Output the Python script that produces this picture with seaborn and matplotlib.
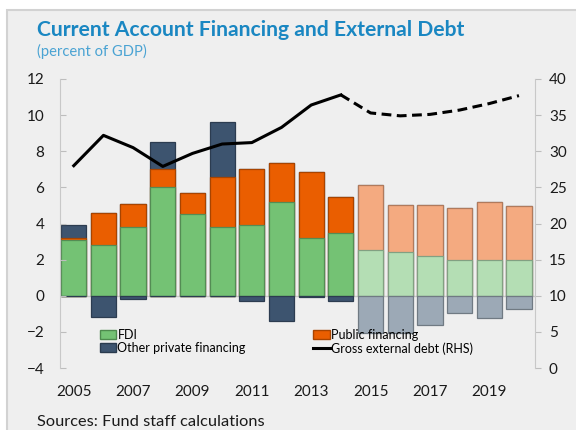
import numpy as np
import pandas as pd
import matplotlib
matplotlib.use("Agg")
import matplotlib.pyplot as plt
import seaborn as sns
from matplotlib.patches import Patch, Rectangle
from matplotlib.lines import Line2D
import matplotlib.colors as mcolors

plt.rcParams['font.family'] = ['Lato', 'DejaVu Sans']

# Data (percent of GDP; debt on right axis)
years = [2005, 2006, 2007, 2008, 2009, 2010, 2011, 2012,
         2013, 2014, 2015, 2016, 2017, 2018, 2019, 2020]
period = ['hist'] * 10 + ['proj'] * 6
fdi = [3.1, 2.8, 3.8, 6.0, 4.5, 3.8, 3.9, 5.2, 3.2, 3.45, 2.55, 2.4, 2.2, 2.0, 2.0, 2.0]
public = [0.1, 1.8, 1.3, 1.0, 1.2, 2.8, 3.1, 2.15, 3.65, 2.0, 3.6, 2.65, 2.85, 2.85, 3.2, 2.95]
other = [0.7, -1.15, -0.2, 1.5, 0.0, 3.0, -0.28, -1.4, -0.05, -0.3,
         -2.05, -2.05, -1.6, -0.95, -1.25, -0.75]
debt = [28.0, 32.2, 30.5, 27.9, 29.7, 31.0, 31.2, 33.3,
        36.4, 37.8, 35.3, 34.9, 35.1, 35.7, 36.6, 37.7]
tick_years = ['2005', '2007', '2009', '2011', '2013', '2015', '2017', '2019']

df = pd.DataFrame({'year': [str(y) for y in years], 'period': period,
                   'fdi': fdi, 'public': public, 'other': other, 'debt': debt})
df['other_pos'] = df['other'].clip(lower=0)
df['other_neg'] = df['other'].clip(upper=0)
df['lvl1'] = df['fdi']
df['lvl2'] = df['fdi'] + df['public']
df['lvl3'] = df['lvl2'] + df['other_pos']

colors = {
    'fdi': {'hist': '#74c274', 'proj': '#b4deb4'},
    'public': {'hist': '#ea5e00', 'proj': '#f4aa80'},
    'other': {'hist': '#3d546f', 'proj': '#9ca9b6'},
}

fig = plt.figure(figsize=(5.76, 4.30), dpi=100)
fig.add_artist(Rectangle((7 / 576, -0.01), 1.0, 1 - 10 / 430 + 0.01, transform=fig.transFigure,
                         facecolor='#efefef', edgecolor='#d2d2d2', lw=1.5, zorder=-5))

ax = fig.add_axes([59.5 / 576, 1 - 368 / 430, (535 - 59.5) / 576, (368 - 79) / 430])
ax.set_facecolor('none')

# stacked bars: draw tallest level first, then overlay lower ones
layers = [('lvl3', 'other'), ('lvl2', 'public'), ('lvl1', 'fdi'), ('other_neg', 'other')]
for col, key in layers:
    sns.barplot(data=df, x='year', y=col, hue='period', palette=colors[key],
                dodge=False, legend=False, width=0.85, errorbar=None, ax=ax,
                saturation=1, linewidth=0.9)

for p in ax.patches:
    fc = np.array(mcolors.to_rgb(p.get_facecolor()))
    p.set_edgecolor(tuple(fc * 0.72))

ax.axhline(0, color='#c8c8c8', lw=1.0, zorder=0.5)
ax.set_ylim(-4, 12)
ax.set_yticks(range(-4, 13, 2))
ax.set_xlim(-0.48, 15.54)
ax.set_xticks(range(0, 16, 2))
ax.set_xticklabels(tick_years)
ax.set_xlabel('')
ax.set_ylabel('')
ax.tick_params(axis='x', length=0, pad=12, labelsize=11, colors='#1a1a1a')
ax.tick_params(axis='y', direction='in', length=4, color='#bdbdbd', pad=11,
               labelsize=11, labelcolor='#1a1a1a')
for s in ['top', 'bottom', 'right']:
    ax.spines[s].set_visible(False)
ax.spines['left'].set_color('#c8c8c8')

ax2 = ax.twinx()
pos = np.arange(len(years))
sns.lineplot(x=pos[:10], y=debt[:10], ax=ax2, color='black', lw=2.2)
sns.lineplot(x=pos[9:], y=debt[9:], ax=ax2, color='black', lw=2.2)
ax2.lines[-1].set_dashes([3.2, 1.8])
ax2.set_ylim(0, 40)
ax2.set_yticks(range(0, 41, 5))
ax2.set_ylabel('')
ax2.tick_params(axis='y', direction='out', length=4, color='#bdbdbd', pad=6,
                labelsize=11, labelcolor='#1a1a1a')
for s in ['top', 'bottom', 'left']:
    ax2.spines[s].set_visible(False)
ax2.spines['right'].set_color('#c8c8c8')

handles = [Patch(facecolor=colors['fdi']['hist'], edgecolor='#4e8a4e'),
           Patch(facecolor=colors['other']['hist'], edgecolor='#2a3b4e'),
           Patch(facecolor=colors['public']['hist'], edgecolor='#a84400'),
           Line2D([0], [0], color='black', lw=2.2)]
labels = ['FDI', 'Other private financing', 'Public financing', 'Gross external debt (RHS)']
ax2.legend(handles, labels, ncol=2, loc='lower left', bbox_to_anchor=(0.072, 0.025),
           frameon=False, fontsize=9, handlelength=1.3, handleheight=0.7,
           handletextpad=0.1, columnspacing=5.4, labelspacing=0.1, borderpad=0)

fig.text(37 / 576, 1 - 36 / 430, 'Current Account Financing and External Debt',
         fontsize=15.2, fontweight='bold', color='#1a87c2', va='baseline')
fig.text(37 / 576, 1 - 56 / 430, '(percent of GDP)', fontsize=10.6,
         color='#4aa3d3', va='baseline')
fig.text(37 / 576, 1 - 426 / 430, 'Sources: Fund staff calculations', fontsize=11.8,
         color='#1a1a1a', va='baseline')

fig.savefig('out.png', dpi=100)
